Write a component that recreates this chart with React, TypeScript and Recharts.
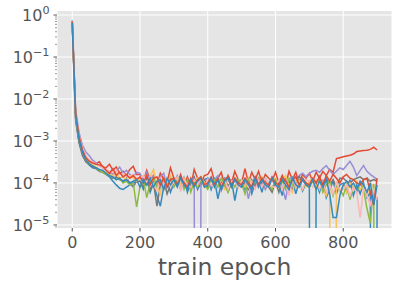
import React from "react";
import { LineChart, Line, XAxis, YAxis, CartesianGrid, Label } from "recharts";

// value that sits below the bottom of the log axis (non-positive in the source run)
const Z = 1e-30;

const EPOCHS = [
  0, 10, 20, 30, 40, 50, 60, 70, 80, 90,
  100, 110, 120, 130, 140, 150, 160, 170, 180, 190,
  200, 210, 220, 230, 240, 250, 260, 270, 280, 290,
  300, 310, 320, 330, 340, 350, 360, 370, 380, 390,
  400, 410, 420, 430, 440, 450, 460, 470, 480, 490,
  500, 510, 520, 530, 540, 550, 560, 570, 580, 590,
  600, 610, 620, 630, 640, 650, 660, 670, 680, 690,
  700, 710, 720, 730, 740, 750, 760, 770, 780, 790,
  800, 810, 820, 830, 840, 850, 860, 870, 880, 890,
  900,
];

const RED_A = [
  0.72, 4.5e-3, 1.3e-3, 6.5e-4, 4.2e-4, 3.4e-4, 3.1e-4, 2.9e-4, 3.2e-4, 2.4e-4,
  2.3e-4, 2.8e-4, 2.0e-4, 2.4e-4, 1.7e-4, 1.9e-4, 1.5e-4, 2.1e-4, 2.5e-4, 1.6e-4,
  1.6e-4, 1.1e-4, 2.0e-4, 1.2e-4, 1.5e-4, 9e-5, 1.7e-4, 1.2e-4, 1.0e-4, 2.3e-4,
  1.3e-4, 1.0e-4, 1.6e-4, 9e-5, 1.4e-4, 8e-5, 2.1e-4, 1.3e-4, 9e-5, 1.5e-4,
  1.6e-4, 2.2e-4, 1.1e-4, 1.3e-4, 1.8e-4, 9e-5, 1.5e-4, 1.0e-4, 1.9e-4, 1.2e-4,
  1.0e-4, 2.2e-4, 1.0e-4, 1.8e-4, 1.2e-4, 1.9e-4, 1.0e-4, 1.6e-4, 1.3e-4, 1.1e-4,
  1.8e-4, 1.0e-4, 1.5e-4, 9e-5, 1.9e-4, 1.2e-4, 1.8e-4, 1.0e-4, 1.6e-4, 1.3e-4,
  1.7e-4, 1.1e-4, 1.8e-4, 1.3e-4, 1.9e-4, 1.5e-4, 2.1e-4, 1.8e-4, 3.8e-4, 4.0e-4,
  4.2e-4, 4.4e-4, 4.6e-4, 4.9e-4, 5.6e-4, 5.8e-4, 5.9e-4, 6.0e-4, 6.3e-4, 7.1e-4,
  6.1e-4,
];

const BLUE_A = [
  0.7, 3.5e-3, 1.0e-3, 5.0e-4, 3.3e-4, 2.7e-4, 2.3e-4, 2.2e-4, 2.0e-4, 1.9e-4,
  1.6e-4, 1.4e-4, 1.1e-4, 9e-5, 7.5e-5, 7e-5, 8e-5, 9e-5, 1.0e-4, 1.1e-4,
  1.1e-4, 7e-5, 1.2e-4, 6e-5, 1.0e-4, 5e-5, 2.8e-5, 8e-5, 1.2e-4, 6e-5,
  1.0e-4, 1.3e-4, 7e-5, 1.3e-4, 6e-5, 1.1e-4, 1.4e-4, 7e-5, 1.0e-4, 1.2e-4,
  1.3e-4, 7e-5, 1.2e-4, 4.2e-5, 1.0e-4, 1.3e-4, 6e-5, 1.2e-4, 3.8e-5, 1.0e-4,
  1.2e-4, 7e-5, 1.3e-4, 5.5e-5, 1.0e-4, 1.2e-4, 6e-5, 1.3e-4, 9e-5, 7e-5,
  1.2e-4, 9e-5, 5e-5, 1.3e-4, 7e-5, 1.2e-4, 5.5e-5, 1.1e-4, 6.5e-5, 1.0e-4,
  9e-5, Z, 1.0e-4, 6e-5, 1.2e-4, 4.5e-5, 7e-5, 1.1e-4, 5.5e-5, 9e-5,
  1.0e-4, 6e-5, 1.2e-4, 5e-5, 9e-5, 5.5e-5, 1.0e-4, 4.5e-5, 6e-5, Z,
  4.5e-5,
];

const PURPLE = [
  0.75, 5.5e-3, 1.6e-3, 8e-4, 5.5e-4, 4.5e-4, 3.5e-4, 3.0e-4, 2.6e-4, 2.3e-4,
  2.0e-4, 1.8e-4, 1.6e-4, 1.9e-4, 2.4e-4, 1.7e-4, 2.0e-4, 1.6e-4, 1.4e-4, 1.8e-4,
  1.7e-4, 1.1e-4, 1.8e-4, 1.0e-4, 1.5e-4, 9e-5, 1.4e-4, 1.7e-4, 8e-5, 1.3e-4,
  1.0e-4, 1.5e-4, 7.5e-5, 1.3e-4, 9e-5, 1.2e-4, 1.3e-4, Z, 1.2e-4, 9e-5,
  1.3e-4, 8e-5, 1.2e-4, 1.5e-4, 6.5e-5, 1.0e-4, 1.3e-4, 8e-5, 1.2e-4, 9e-5,
  8e-5, 1.2e-4, 4.2e-5, 1.0e-4, 1.3e-4, 8e-5, 1.2e-4, 7e-5, 1.0e-4, 1.3e-4,
  9e-5, 1.2e-4, 8e-5, 4e-5, 1.2e-4, 1.4e-4, 1.0e-4, 1.5e-4, 1.7e-4, 1.4e-4,
  1.7e-4, 1.9e-4, 2.0e-4, 1.8e-4, 2.2e-4, 2.6e-4, 2.0e-4, 1.6e-4, 1.9e-4, 2.3e-4,
  2.1e-4, 2.6e-4, 3.3e-4, 2.4e-4, 1.5e-4, 2.0e-4, 2.6e-4, 1.9e-4, 1.6e-4, 1.4e-4,
  1.2e-4,
];

const GRAY = [
  0.6, 3e-3, 9e-4, 4.5e-4, 3.2e-4, 2.8e-4, 2.4e-4, 2.2e-4, 1.9e-4, 1.8e-4,
  1.6e-4, 1.5e-4, 1.3e-4, 1.4e-4, 1.2e-4, 1.1e-4, 1.3e-4, 1.0e-4, 8e-5, 1.1e-4,
  1.1e-4, 8e-5, 1.3e-4, 7e-5, 1.0e-4, 2.8e-5, 9e-5, 1.2e-4, 5.5e-5, 9e-5,
  1.1e-4, 9e-5, 1.4e-4, 8e-5, 1.2e-4, 9e-5, 1.3e-4, 8e-5, 1.1e-4, 1.2e-4,
  8e-5, 1.2e-4, 9e-5, 1.3e-4, 7.5e-5, 1.2e-4, 9e-5, 8e-5, 1.3e-4, 1.0e-4,
  1.2e-4, 9e-5, 7e-5, 1.2e-4, 8e-5, 1.3e-4, 9e-5, 1.2e-4, 8e-5, 6e-5,
  1.1e-4, 6e-5, 1.2e-4, 8e-5, 1.1e-4, 7e-5, 1.2e-4, 1.4e-4, 1.2e-4, 9e-5,
  8e-5, 1.2e-4, 9e-5, 1.4e-4, 7e-5, 1.3e-4, 9e-5, 1.2e-4, 8e-5, 1.3e-4,
  1.3e-4, 1.1e-4, 1.0e-4, 1.2e-4, 1.3e-4, 1.4e-4, 1.2e-4, 1.3e-4, 1.1e-4, 1.2e-4,
  1.1e-4,
];

const YELLOW = [
  0.7, 4e-3, 1.2e-3, 6e-4, 3.8e-4, 3.0e-4, 2.6e-4, 2.4e-4, 2.1e-4, 1.9e-4,
  1.8e-4, 1.6e-4, 1.5e-4, 1.7e-4, 1.3e-4, 1.4e-4, 1.2e-4, 1.5e-4, 1.3e-4, 1.1e-4,
  1.3e-4, 1.5e-4, 1.0e-4, 1.4e-4, 2.1e-4, 9e-5, 5.5e-5, 1.3e-4, 9e-5, 1.5e-4,
  1.0e-4, 1.4e-4, 9e-5, 1.3e-4, 8e-5, 1.2e-4, 9e-5, 1.3e-4, 1.4e-4, 1.0e-4,
  9e-5, 1.3e-4, 8e-5, 1.2e-4, 9e-5, 7e-5, 1.2e-4, 9e-5, 1.3e-4, 8e-5,
  1.2e-4, 8e-5, 1.3e-4, 9e-5, 1.2e-4, 8e-5, 1.4e-4, 9e-5, 8e-5, 1.2e-4,
  1.3e-4, 8e-5, 1.2e-4, 1.5e-4, 9e-5, 6e-5, 1.2e-4, 9e-5, 1.3e-4, 8e-5,
  1.1e-4, 1.3e-4, 8e-5, 1.2e-4, 7e-5, 5e-5, 1.0e-4, Z, 1.1e-4, 6e-5,
  9e-5, 6e-5, 1.0e-4, 8e-5, 1.1e-4, 7e-5, 9e-5, 5e-5, 1.0e-4, 8e-5,
  7e-5,
];

const GREEN = [
  0.7, 3.8e-3, 1.1e-3, 5.5e-4, 3.5e-4, 2.9e-4, 2.6e-4, 2.3e-4, 2.0e-4, 1.8e-4,
  1.6e-4, 1.5e-4, 1.4e-4, 1.2e-4, 1.3e-4, 1.0e-4, 1.1e-4, 9e-5, 1.0e-4, 2.7e-5,
  8e-5, 1.2e-4, 4.5e-5, 1.0e-4, 1.3e-4, 8e-5, 1.2e-4, 7e-5, 1.0e-4, 1.2e-4,
  8e-5, 1.1e-4, 1.3e-4, 7e-5, 1.2e-4, 6e-5, 1.1e-4, 8e-5, 1.2e-4, 9e-5,
  7e-5, 1.1e-4, 1.2e-4, 8e-5, 1.3e-4, 9e-5, 6e-5, 1.1e-4, 8e-5, 1.2e-4,
  1.0e-4, 5.5e-5, 1.2e-4, 8e-5, 1.1e-4, 1.3e-4, 8e-5, 1.2e-4, 9e-5, 7e-5,
  1.2e-4, 8e-5, 1.1e-4, 7e-5, 1.3e-4, 9e-5, 8e-5, 1.2e-4, 7e-5, 1.0e-4,
  8e-5, 1.1e-4, 7e-5, 1.2e-4, 6e-5, 9e-5, 1.1e-4, 5e-5, 9e-5, 7e-5,
  5e-5, 9e-5, 4e-5, 8e-5, 6e-5, 1.0e-4, 7e-5, 2.5e-5, 1.1e-5, 9.5e-5,
  Z,
];

const PINK = [
  0.7, 4.2e-3, 1.4e-3, 7e-4, 4.5e-4, 3.6e-4, 3.2e-4, 2.8e-4, 2.6e-4, 2.3e-4,
  2.1e-4, 1.9e-4, 1.8e-4, 2.0e-4, 1.6e-4, 1.7e-4, 1.5e-4, 1.4e-4, 1.6e-4, 1.3e-4,
  1.3e-4, 1.5e-4, 1.0e-4, 1.4e-4, 9e-5, 6.5e-5, 1.3e-4, 9e-5, 1.2e-4, 8e-5,
  1.1e-4, 1.3e-4, 7e-5, 1.2e-4, 9e-5, 8e-5, 1.2e-4, 9e-5, 1.3e-4, 8e-5,
  1.2e-4, 9e-5, 8e-5, 1.3e-4, 9e-5, 1.2e-4, 7e-5, 1.1e-4, 1.2e-4, 8e-5,
  1.1e-4, 1.2e-4, 8e-5, 1.1e-4, 7e-5, 1.2e-4, 8e-5, 1.3e-4, 9e-5, 8e-5,
  8e-5, 1.2e-4, 7e-5, 1.1e-4, 5e-5, 1.2e-4, 8e-5, 1.1e-4, 7e-5, 1.2e-4,
  1.1e-4, 8e-5, 1.2e-4, 7e-5, 1.1e-4, 6e-5, 9e-5, 5.5e-5, 1.0e-4, 7e-5,
  7e-5, 9e-5, 5e-5, 8e-5, 6e-5, 1.5e-5, 8e-5, 5e-5, 3e-5, 7e-5,
  4e-5,
];

const RED_B = [
  0.7, 4.4e-3, 1.3e-3, 6.2e-4, 4.0e-4, 3.3e-4, 3.0e-4, 2.8e-4, 2.7e-4, 2.5e-4,
  2.0e-4, 1.7e-4, 2.2e-4, 1.5e-4, 1.8e-4, 1.4e-4, 1.6e-4, 1.3e-4, 1.5e-4, 1.2e-4,
  1.4e-4, 1.0e-4, 1.5e-4, 9e-5, 1.3e-4, 1.4e-4, 9e-5, 1.3e-4, 8e-5, 1.2e-4,
  1.3e-4, 9e-5, 1.4e-4, 1.0e-4, 8e-5, 1.3e-4, 9e-5, 1.2e-4, 1.4e-4, 9e-5,
  1.0e-4, 1.4e-4, 9e-5, 1.3e-4, 8e-5, 1.2e-4, 1.4e-4, 9e-5, 1.3e-4, 1.0e-4,
  9e-5, 1.3e-4, 1.0e-4, 8e-5, 1.4e-4, 9e-5, 1.3e-4, 1.0e-4, 9e-5, 1.4e-4,
  1.0e-4, 9e-5, 1.4e-4, 1.1e-4, 8e-5, 1.2e-4, 1.4e-4, 9e-5, 1.3e-4, 1.0e-4,
  9e-5, 1.3e-4, 1.0e-4, 1.4e-4, 9e-5, 1.5e-4, 1.1e-4, 1.6e-4, 1.3e-4, 1.0e-4,
  1.4e-4, 1.6e-4, 1.3e-4, 1.2e-4, 1.0e-4, 9e-5, 1.2e-4, 1.3e-4, 6e-5, 3e-5,
  1.3e-4,
];

const BLUE_B = [
  0.65, 4e-3, 1.1e-3, 5.5e-4, 3.6e-4, 2.9e-4, 2.5e-4, 2.3e-4, 2.1e-4, 2.0e-4,
  1.7e-4, 1.5e-4, 1.4e-4, 1.2e-4, 1.3e-4, 1.1e-4, 1.2e-4, 1.0e-4, 1.1e-4, 1.2e-4,
  8e-5, 1.2e-4, 9e-5, 1.3e-4, 8e-5, 1.1e-4, 1.2e-4, 7e-5, 1.3e-4, 9e-5,
  1.2e-4, 8e-5, 1.3e-4, 9e-5, 7e-5, 1.2e-4, 8e-5, 1.1e-4, 1.3e-4, 8e-5,
  9e-5, 1.3e-4, 8e-5, 1.2e-4, 7e-5, 1.1e-4, 1.3e-4, 8e-5, 1.2e-4, 9e-5,
  8e-5, 1.2e-4, 9e-5, 7e-5, 1.3e-4, 8e-5, 1.2e-4, 9e-5, 8e-5, 1.3e-4,
  9e-5, 8e-5, 1.2e-4, 9e-5, 7e-5, 1.3e-4, 9e-5, 8e-5, 1.2e-4, 9e-5,
  8e-5, 1.2e-4, 7e-5, 1.1e-4, 8e-5, 1.2e-4, 5.5e-5, 1.5e-5, 1.5e-5, 5e-5,
  9e-5, 1.1e-4, 8e-5, 1.0e-4, 7e-5, 1.1e-4, 9e-5, 6e-5, 1.0e-4, 3e-5,
  9e-5,
];

const SERIES = [
  { key: "redA", color: "#E24A33", values: RED_A },
  { key: "blueA", color: "#348ABD", values: BLUE_A },
  { key: "purple", color: "#988ED5", values: PURPLE },
  { key: "gray", color: "#777777", values: GRAY },
  { key: "yellow", color: "#FBC15E", values: YELLOW },
  { key: "green", color: "#8EBA42", values: GREEN },
  { key: "pink", color: "#FFB5B8", values: PINK },
  { key: "redB", color: "#E24A33", values: RED_B },
  { key: "blueB", color: "#348ABD", values: BLUE_B },
];

const X_TICKS = [0, 200, 400, 600, 800];
const Y_MAJOR = [1e-5, 1e-4, 1e-3, 1e-2, 1e-1, 1];
const Y_MINOR_MULT = [2, 3, 4, 5, 6, 7, 8, 9];
const Y_DOMAIN = [8.47e-6, 1.247];

const Y_TICKS = [
  9e-6,
  ...Y_MAJOR,
  ...Y_MAJOR.slice(0, 5).flatMap((m) => Y_MINOR_MULT.map((k) => k * m)),
].sort((a, b) => a - b);

const data = EPOCHS.map((epoch, i) => {
  const row: Record<string, number> = { epoch };
  SERIES.forEach((s) => {
    row[s.key] = s.values[i];
  });
  return row;
});

const FONT = "DejaVu Sans, sans-serif";
const TEXT = "#555555";

const YTick = (props: any) => {
  const { x, y, payload } = props;
  const lg = Math.log10(payload.value);
  const e = Math.round(lg);
  const major = Math.abs(lg - e) < 1e-9;
  return (
    <g>
      <line
        x1={x}
        x2={x - (major ? 3.5 : 2)}
        y1={y}
        y2={y}
        stroke={TEXT}
        strokeWidth={major ? 1 : 0.6}
      />
      {major && (
        <text
          x={x - 7.5}
          y={y + 6}
          textAnchor="end"
          fill={TEXT}
          fontSize={16}
          fontFamily={FONT}
        >
          10
          <tspan dy={-7} fontSize={11.2}>
            {e === 0 ? "0" : "\u2212" + -e}
          </tspan>
        </text>
      )}
    </g>
  );
};

const XTick = (props: any) => {
  const { x, y, payload } = props;
  return (
    <g>
      <line x1={x} x2={x} y1={y} y2={y + 3.5} stroke={TEXT} />
      <text
        x={x}
        y={y + 20}
        textAnchor="middle"
        fill={TEXT}
        fontSize={16}
        fontFamily={FONT}
      >
        {payload.value}
      </text>
    </g>
  );
};

const AxisTitle = (props: any) => {
  const { viewBox } = props;
  return (
    <text
      x={viewBox.x + viewBox.width / 2}
      y={viewBox.y + 47}
      textAnchor="middle"
      fill={TEXT}
      fontSize={23.5}
      fontFamily={FONT}
    >
      train epoch
    </text>
  );
};

export default function App() {
  return (
    <div
      style={{
        position: "absolute",
        left: 0,
        top: 0,
        width: 402,
        height: 288,
        background: "#ffffff",
      }}
    >
      <LineChart
        width={402}
        height={288}
        data={data}
        margin={{ top: 11, right: 10, bottom: 0, left: 0 }}
      >
        <CartesianGrid
          fill="#E5E5E5"
          stroke="#ffffff"
          strokeWidth={1}
          horizontalValues={Y_MAJOR}
        />
        <XAxis
          dataKey="epoch"
          type="number"
          domain={[-45, 944]}
          ticks={X_TICKS}
          interval={0}
          allowDataOverflow
          axisLine={false}
          tickLine={false}
          tickSize={0}
          tickMargin={0}
          height={60}
          tick={(p: any) => <XTick {...p} />}
        >
          <Label content={(p: any) => <AxisTitle {...p} />} />
        </XAxis>
        <YAxis
          type="number"
          scale="log"
          domain={Y_DOMAIN}
          ticks={Y_TICKS}
          interval={0}
          allowDataOverflow
          axisLine={false}
          tickLine={false}
          tickSize={0}
          tickMargin={0}
          width={57}
          tick={(p: any) => <YTick {...p} />}
        />
        {SERIES.map((s) => (
          <Line
            key={s.key}
            dataKey={s.key}
            stroke={s.color}
            strokeWidth={1.5}
            dot={false}
            activeDot={false}
            isAnimationActive={false}
          />
        ))}
      </LineChart>
    </div>
  );
}
